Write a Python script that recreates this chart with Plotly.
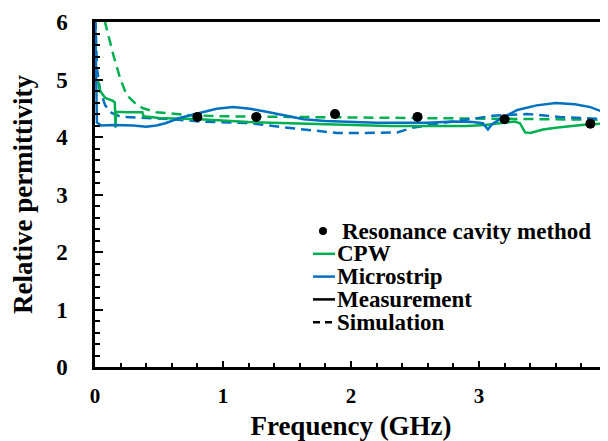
import plotly.graph_objects as go

# ---------------- data ----------------
cav_x = [0.80, 1.26, 1.875, 2.52, 3.20, 3.87]
cav_y = [4.35, 4.35, 4.40, 4.35, 4.31, 4.23]

ms_meas_x = [0.003, 0.008, 0.015, 0.05, 0.15, 0.30, 0.40, 0.48, 0.55, 0.66, 0.82, 0.95, 1.08, 1.21,
             1.34, 1.47, 1.63, 1.80, 2.00, 2.20, 2.40, 2.60, 2.80, 2.95, 3.03, 3.07, 3.10, 3.17,
             3.30, 3.45, 3.60, 3.75, 3.87, 4.00]
ms_meas_y = [5.90, 4.60, 4.25, 4.20, 4.21, 4.20, 4.18, 4.20, 4.24, 4.33, 4.42, 4.49, 4.52, 4.49,
             4.44, 4.38, 4.31, 4.28, 4.26, 4.25, 4.25, 4.25, 4.27, 4.26, 4.24, 4.13, 4.22, 4.32,
             4.47, 4.55, 4.59, 4.57, 4.52, 4.41]

ms_sim_x = [0.004, 0.015, 0.04, 0.08, 0.13, 0.20, 0.40, 0.60, 0.82, 1.00, 1.21, 1.47, 1.73, 1.89,
            2.10, 2.36, 2.48, 2.70, 2.93, 3.11, 3.375, 3.63, 3.80, 4.00]
ms_sim_y = [6.05, 5.20, 4.80, 4.55, 4.42, 4.35, 4.33, 4.31, 4.27, 4.26, 4.24, 4.17, 4.10, 4.07,
            4.07, 4.08, 4.16, 4.24, 4.31, 4.37, 4.40, 4.35, 4.33, 4.31]

cpw_meas_x = [0.02, 0.04, 0.08, 0.14, 0.155, 0.16, 0.165, 0.25, 0.37, 0.38, 0.50, 0.82, 1.20, 1.50,
              1.90, 2.30, 2.60, 2.90, 3.05, 3.20, 3.28, 3.32, 3.36, 3.40, 3.50, 3.60, 3.80, 4.00]
cpw_meas_y = [5.00, 4.80, 4.68, 4.63, 4.60, 4.16, 4.44, 4.43, 4.43, 4.36, 4.33, 4.31, 4.26, 4.24,
              4.22, 4.19, 4.19, 4.19, 4.21, 4.25, 4.27, 4.24, 4.08, 4.07, 4.13, 4.16, 4.21, 4.24]

cpw_sim_x = [0.065, 0.078, 0.143, 0.195, 0.247, 0.326, 0.375, 0.48, 0.74, 1.00, 1.50, 2.00, 2.50,
             3.00, 3.50, 4.00]
cpw_sim_y = [6.30, 6.00, 5.43, 5.03, 4.73, 4.56, 4.50, 4.43, 4.38, 4.36, 4.35, 4.34, 4.33, 4.32,
             4.30, 4.30]

x_tick_vals = [0, 1, 2, 3, 4]
x_tick_text = ["0", "1", "2", "3", "4"]
y_tick_vals = [0, 1, 2, 3, 4, 5, 6]
y_tick_text = ["0", "1", "2", "3", "4", "5", "6"]

legend_labels = ["Resonance cavity method", "CPW", "Microstrip", "Measurement", "Simulation"]

GREEN = "#00B050"
BLUE = "#0070C0"
FONT = "Liberation Serif"

def b(s):
    return "<b>" + s + "</b>"

fig = go.Figure()
dash_style = "10px,6px"
fig.add_trace(go.Scatter(x=cpw_sim_x, y=cpw_sim_y, mode="lines",
                         line=dict(color=GREEN, width=2.5, dash=dash_style)))
fig.add_trace(go.Scatter(x=ms_sim_x, y=ms_sim_y, mode="lines",
                         line=dict(color=BLUE, width=2.5, dash=dash_style)))
fig.add_trace(go.Scatter(x=cpw_meas_x, y=cpw_meas_y, mode="lines",
                         line=dict(color=GREEN, width=2.5)))
fig.add_trace(go.Scatter(x=ms_meas_x, y=ms_meas_y, mode="lines",
                         line=dict(color=BLUE, width=2.5)))
fig.add_trace(go.Scatter(x=cav_x, y=cav_y, mode="markers",
                         marker=dict(color="black", size=10)))

# ---------------- manual legend (page offset 8px by default body margin) ----------------
OFF = 8
W, H = 600, 433
ML, MR, MT, MB = 87, 1, 14, 74
pw, ph = W - ML - MR, H - MT - MB

def px(xs):
    return (xs - OFF - ML) / pw

def py(ys):
    return (H - MB - (ys - OFF)) / ph

leg_top = 231
leg_step = 22.8
key_x0, key_x1 = 313, 335
annotations = []
shapes = []
key_colors = [None, GREEN, BLUE, "black", "black"]
for i, lab in enumerate(legend_labels):
    yc = leg_top + i * leg_step
    if i == 0:
        shapes.append(dict(type="circle", xref="paper", yref="paper",
                           x0=px(319), x1=px(327), y0=py(yc + 4), y1=py(yc - 4),
                           fillcolor="black", line=dict(width=0)))
        tx = 340
    else:
        shapes.append(dict(type="line", xref="paper", yref="paper",
                           x0=px(key_x0), x1=px(key_x1), y0=py(yc), y1=py(yc),
                           line=dict(color=key_colors[i], width=2.5,
                                     dash="7px,5px" if i == 4 else "solid")))
        tx = key_x1
    annotations.append(dict(text=b(lab), xref="paper", yref="paper", x=px(tx), y=py(yc),
                            xanchor="left", yanchor="middle", showarrow=False,
                            font=dict(family=FONT, size=23, color="black")))

fig.update_layout(
    width=W, height=H,
    margin=dict(l=ML, r=MR, t=MT, b=MB),
    paper_bgcolor="white", plot_bgcolor="white",
    showlegend=False,
    shapes=shapes, annotations=annotations,
)
fig.update_xaxes(
    range=[0, 4], tickmode="array", tickvals=x_tick_vals, ticktext=[b(t) for t in x_tick_text],
    showgrid=False, zeroline=False, automargin=False,
    showline=True, linecolor="black", linewidth=2.5, mirror=True,
    ticks="inside", ticklen=6, tickwidth=2, tickcolor="black",
    minor=dict(dtick=0.2, tick0=0, ticks="inside", ticklen=4, tickwidth=2, tickcolor="black", showgrid=False),
    tickfont=dict(family=FONT, size=21, color="black"),
    ticklabelstandoff=8,
    title=dict(text=b("Frequency (GHz)"), standoff=18,
               font=dict(family=FONT, size=27, color="black")),
)
fig.update_yaxes(
    range=[0, 6], tickmode="array", tickvals=y_tick_vals, ticktext=[b(t) for t in y_tick_text],
    showgrid=False, zeroline=False, automargin=False,
    showline=True, linecolor="black", linewidth=2.5, mirror=True,
    ticks="inside", ticklen=8, tickwidth=2, tickcolor="black",
    minor=dict(dtick=0.2, tick0=0, ticks="inside", ticklen=5, tickwidth=2, tickcolor="black", showgrid=False),
    tickfont=dict(family=FONT, size=23, color="black"),
    ticklabelstandoff=20,
    title=dict(text=b("Relative permittivity"), standoff=16,
               font=dict(family=FONT, size=27, color="black")),
)

fig.write_html("out.html")
